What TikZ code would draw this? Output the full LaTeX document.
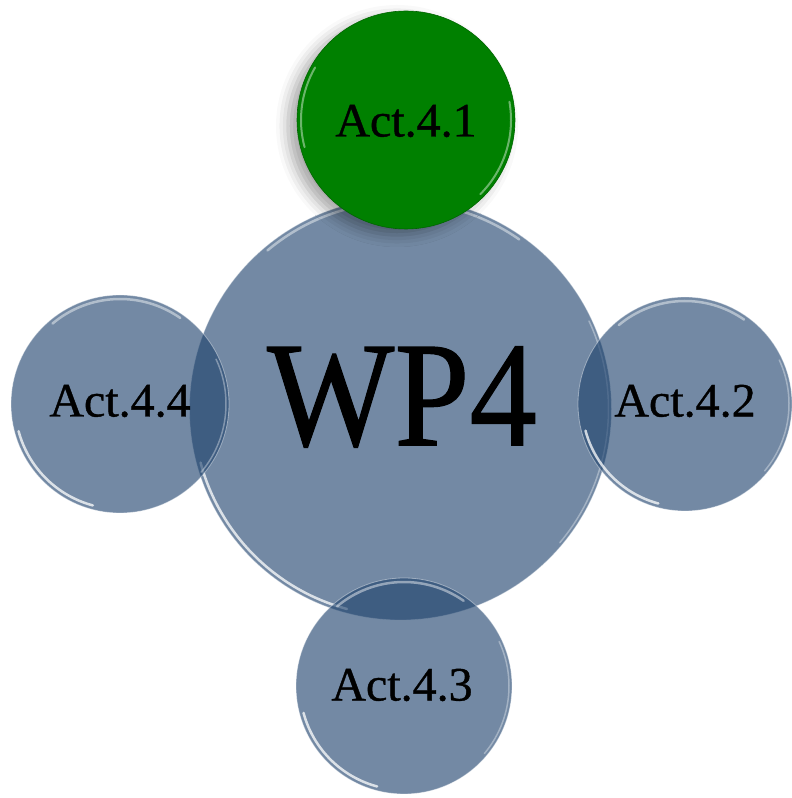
\documentclass[tikz,border=0pt]{standalone}
\usepackage{fontspec}
\usepackage{graphicx}
\setmainfont{Liberation Serif}
\newfontfamily\heavyserif{Liberation Serif}[FakeBold=0.8]
\usetikzlibrary{shadows.blur}
\definecolor{bub}{RGB}{29,65,108}
\definecolor{actgreen}{RGB}{0,128,0}
\newcommand\glossrim[2]{%
  \draw[hltop] ([shift={(55:{#2-4})}]#1.center) arc[start angle=55, end angle=130, radius=#2-4];
  \draw[hlbot] ([shift={(195:{#2-4})}]#1.center) arc[start angle=195, end angle=255, radius=#2-4];
  \draw[hlside] ([shift={(-40:{#2-3})}]#1.center) arc[start angle=-40, end angle=25, radius=#2-3];
}
\begin{document}
\begin{tikzpicture}[x=1pt,y=1pt,
  bubble/.style={circle, inner sep=0pt, fill=bub, fill opacity=0.62,
    draw=white, draw opacity=0.4, line width=0.8pt},
  greenbub/.style={circle, inner sep=0pt, fill=actgreen, draw=actgreen!80!black, line width=0.6pt,
    blur shadow={shadow xshift=-9pt, shadow yshift=-6pt, shadow blur radius=12pt, shadow opacity=35}},
  lbl/.style={inner sep=0pt, text=black, font=\heavyserif\fontsize{48}{48}\selectfont},
  biglbl/.style={inner sep=0pt, text=black, font=\heavyserif\fontsize{150}{150}\selectfont},
  hltop/.style={white, opacity=0.45, line width=2.5pt, line cap=round},
  hlbot/.style={white, opacity=0.75, line width=2.5pt, line cap=round},
  hlside/.style={white, opacity=0.35, line width=1.5pt, line cap=round}]
\useasboundingbox (0,0) rectangle (792,798);
% central bubble
\node[bubble, minimum size=422pt] (wp4) at (400.5,389) {};
\glossrim{wp4}{211}
% side bubbles
\node[bubble, minimum size=218pt] (a44) at (120,394) {};
\glossrim{a44}{109}
\node[bubble, minimum size=214pt] (a42) at (685,394) {};
\glossrim{a42}{107}
\node[bubble, minimum size=216pt] (a43) at (404,112) {};
\glossrim{a43}{108}
% green bubble on top
\node[greenbub, minimum size=218pt] (a41) at (406,678) {};
\draw[white!60!actgreen, opacity=0.7, line width=2pt, line cap=round]
  ([shift={(150:105)}]a41.center) arc[start angle=150, end angle=195, radius=105];
\draw[white!60!actgreen, opacity=0.7, line width=2pt, line cap=round]
  ([shift={(-45:105)}]a41.center) arc[start angle=-45, end angle=10, radius=105];
% labels
\node[biglbl] (wp4t) at ([xshift=1.5pt,yshift=12pt]wp4.center) {\scalebox{0.9}[1]{WP4}};
\node[lbl] (a41t) at ([yshift=-1pt]a41.center) {Act.4.1};
\node[lbl] (a42t) at ([yshift=3pt]a42.center) {Act.4.2};
\node[lbl] (a43t) at ([xshift=-2pt,yshift=1pt]a43.center) {Act.4.3};
\node[lbl] (a44t) at ([yshift=3pt]a44.center) {Act.4.4};
\end{tikzpicture}
\end{document}
